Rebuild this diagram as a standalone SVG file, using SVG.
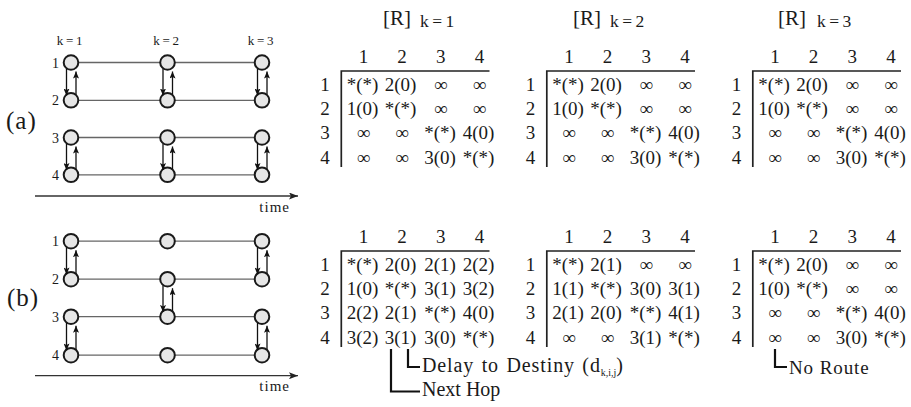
<svg xmlns="http://www.w3.org/2000/svg" width="911" height="407" viewBox="0 0 911 407">
<style>
text{font-family:"Liberation Serif","Times New Roman",serif;fill:#1a1a1a}
.cell{font-size:19px;text-anchor:middle}
.rl{font-size:19px;text-anchor:middle}
.tR{font-size:21px}
.tk{font-size:17.5px;letter-spacing:3.5px}
.kl{font-size:13px;letter-spacing:2.8px;text-anchor:middle}
.nl{font-size:14px;text-anchor:middle}
.big{font-size:25px;letter-spacing:1px}
.time{font-size:15px;letter-spacing:1px;text-anchor:end}
.ann{font-size:20px}
.link{stroke:#666;stroke-width:1.3;fill:none}
.node{fill:#e6e6e6;stroke:#1a1a1a;stroke-width:2}
.arr{stroke:#111;stroke-width:1.3;fill:none;marker-end:url(#ah)}
.axis{stroke:#333;stroke-width:1.3;fill:none;marker-end:url(#ah2)}
.mline{stroke:#222;stroke-width:1.7;fill:none}
.bl{stroke:#111;stroke-width:2.2;fill:none}
</style>
<defs>
<marker id="ah" markerWidth="8" markerHeight="6" refX="7" refY="3" orient="auto" markerUnits="userSpaceOnUse">
<path d="M0,0 L7,3 L0,6 L1.5,3 Z" fill="#111"/>
</marker>
<marker id="ah2" markerWidth="10" markerHeight="7" refX="9" refY="3.5" orient="auto" markerUnits="userSpaceOnUse">
<path d="M0,0 L9,3.5 L0,7 L2,3.5 Z" fill="#222"/>
</marker>
</defs>

<!-- Panel (a) -->
<g id="panel-a-labels">
<text class="big" x="6" y="129">(a)</text>
<text class="kl" x="71" y="45">k=1</text>
<text class="kl" x="167.5" y="45">k=2</text>
<text class="kl" x="262" y="45">k=3</text>
<text class="nl" x="55.5" y="67.5">1</text>
<text class="nl" x="55.5" y="105">2</text>
<text class="nl" x="55.5" y="142.5">3</text>
<text class="nl" x="55.5" y="180">4</text>
<text class="time" x="290" y="212">time</text>
</g>
<g id="connectors-a">
<line class="link" x1="71" y1="62.5" x2="262" y2="62.5"/>
<line class="link" x1="71" y1="100.3" x2="262" y2="100.3"/>
<line class="link" x1="71" y1="137.5" x2="262" y2="137.5"/>
<line class="link" x1="71" y1="174.8" x2="262" y2="174.8"/>
<line class="axis" x1="35" y1="196" x2="298" y2="196"/>
</g>
<g id="nodes-a">
<circle id="a-n1-k1" class="node" cx="71" cy="62.5" r="7.3"/>
<circle id="a-n2-k1" class="node" cx="71" cy="100.3" r="7.3"/>
<circle id="a-n3-k1" class="node" cx="71" cy="137.5" r="7.3"/>
<circle id="a-n4-k1" class="node" cx="71" cy="174.8" r="7.3"/>
<circle id="a-n1-k2" class="node" cx="167.5" cy="62.5" r="7.3"/>
<circle id="a-n2-k2" class="node" cx="167.5" cy="100.3" r="7.3"/>
<circle id="a-n3-k2" class="node" cx="167.5" cy="137.5" r="7.3"/>
<circle id="a-n4-k2" class="node" cx="167.5" cy="174.8" r="7.3"/>
<circle id="a-n1-k3" class="node" cx="262" cy="62.5" r="7.3"/>
<circle id="a-n2-k3" class="node" cx="262" cy="100.3" r="7.3"/>
<circle id="a-n3-k3" class="node" cx="262" cy="137.5" r="7.3"/>
<circle id="a-n4-k3" class="node" cx="262" cy="174.8" r="7.3"/>
</g>
<g id="arrows-a">
<line class="arr" x1="66.5" y1="68.5" x2="66.5" y2="95.5"/>
<line class="arr" x1="76" y1="94.5" x2="76" y2="71.5"/>
<line class="arr" x1="66.5" y1="143.5" x2="66.5" y2="170"/>
<line class="arr" x1="76" y1="169" x2="76" y2="146.5"/>
<line class="arr" x1="163" y1="68.5" x2="163" y2="95.5"/>
<line class="arr" x1="172.5" y1="94.5" x2="172.5" y2="71.5"/>
<line class="arr" x1="163" y1="143.5" x2="163" y2="170"/>
<line class="arr" x1="172.5" y1="169" x2="172.5" y2="146.5"/>
<line class="arr" x1="257.5" y1="68.5" x2="257.5" y2="95.5"/>
<line class="arr" x1="267" y1="94.5" x2="267" y2="71.5"/>
<line class="arr" x1="257.5" y1="143.5" x2="257.5" y2="170"/>
<line class="arr" x1="267" y1="169" x2="267" y2="146.5"/>
</g>

<!-- Panel (b) -->
<g id="panel-b-labels">
<text class="big" x="7" y="306">(b)</text>
<text class="nl" x="55.5" y="246.2">1</text>
<text class="nl" x="55.5" y="284.2">2</text>
<text class="nl" x="55.5" y="321.7">3</text>
<text class="nl" x="55.5" y="360.2">4</text>
<text class="time" x="290" y="391">time</text>
</g>
<g id="connectors-b">
<line class="link" x1="71" y1="241.2" x2="262" y2="241.2"/>
<line class="link" x1="71" y1="279.2" x2="262" y2="279.2"/>
<line class="link" x1="71" y1="316.7" x2="262" y2="316.7"/>
<line class="link" x1="71" y1="355.2" x2="262" y2="355.2"/>
<line class="axis" x1="35" y1="375.7" x2="298" y2="375.7"/>
</g>
<g id="nodes-b">
<circle id="b-n1-k1" class="node" cx="71" cy="241.2" r="7.3"/>
<circle id="b-n2-k1" class="node" cx="71" cy="279.2" r="7.3"/>
<circle id="b-n3-k1" class="node" cx="71" cy="316.7" r="7.3"/>
<circle id="b-n4-k1" class="node" cx="71" cy="355.2" r="7.3"/>
<circle id="b-n1-k2" class="node" cx="167.5" cy="241.2" r="7.3"/>
<circle id="b-n2-k2" class="node" cx="167.5" cy="279.2" r="7.3"/>
<circle id="b-n3-k2" class="node" cx="167.5" cy="316.7" r="7.3"/>
<circle id="b-n4-k2" class="node" cx="167.5" cy="355.2" r="7.3"/>
<circle id="b-n1-k3" class="node" cx="262" cy="241.2" r="7.3"/>
<circle id="b-n2-k3" class="node" cx="262" cy="279.2" r="7.3"/>
<circle id="b-n3-k3" class="node" cx="262" cy="316.7" r="7.3"/>
<circle id="b-n4-k3" class="node" cx="262" cy="355.2" r="7.3"/>
</g>
<g id="arrows-b">
<line class="arr" x1="66.5" y1="247.2" x2="66.5" y2="274.4"/>
<line class="arr" x1="76" y1="273.4" x2="76" y2="250.2"/>
<line class="arr" x1="66.5" y1="322.7" x2="66.5" y2="350.4"/>
<line class="arr" x1="76" y1="349.4" x2="76" y2="325.7"/>
<line class="arr" x1="163" y1="285.2" x2="163" y2="311.9"/>
<line class="arr" x1="172.5" y1="310.9" x2="172.5" y2="288.2"/>
<line class="arr" x1="257.5" y1="247.2" x2="257.5" y2="274.4"/>
<line class="arr" x1="267" y1="273.4" x2="267" y2="250.2"/>
<line class="arr" x1="257.5" y1="322.7" x2="257.5" y2="350.4"/>
<line class="arr" x1="267" y1="349.4" x2="267" y2="325.7"/>
</g>

<!-- Titles -->
<g id="titles">
<text class="tR" x="383" y="24.5">[R]</text><text class="tk" x="420" y="26.5">k=1</text>
<text class="tR" x="573" y="24.5">[R]</text><text class="tk" x="610" y="26.5">k=2</text>
<text class="tR" x="778" y="24.5">[R]</text><text class="tk" x="817" y="26.5">k=3</text>
</g>

<!-- Matrix a k=1 -->
<g id="mat-a-k1">
<path class="mline" d="M341.3,167 V71 H489.5"/>
<text class="cell" x="363.5" y="63.3">1</text><text class="cell" x="402" y="63.3">2</text><text class="cell" x="440.8" y="63.3">3</text><text class="cell" x="479.6" y="63.3">4</text>
<text class="rl" x="325" y="90.7">1</text><text class="rl" x="325" y="115">2</text><text class="rl" x="325" y="139.3">3</text><text class="rl" x="325" y="163.5">4</text>
<text class="cell" x="362.5" y="90.7">*(*)</text><text class="cell" x="400.5" y="90.7">2(0)</text><text class="cell" x="440.8" y="90.7">∞</text><text class="cell" x="479.6" y="90.7">∞</text>
<text class="cell" x="362.5" y="115">1(0)</text><text class="cell" x="400.5" y="115">*(*)</text><text class="cell" x="440.8" y="115">∞</text><text class="cell" x="479.6" y="115">∞</text>
<text class="cell" x="363.5" y="139.3">∞</text><text class="cell" x="402" y="139.3">∞</text><text class="cell" x="440" y="139.3">*(*)</text><text class="cell" x="478.5" y="139.3">4(0)</text>
<text class="cell" x="363.5" y="163.5">∞</text><text class="cell" x="402" y="163.5">∞</text><text class="cell" x="440" y="163.5">3(0)</text><text class="cell" x="478.5" y="163.5">*(*)</text>
</g>
<!-- Matrix a k=2 -->
<g id="mat-a-k2" transform="translate(205.5,0)">
<path class="mline" d="M341.3,167 V71 H489.5"/>
<text class="cell" x="363.5" y="63.3">1</text><text class="cell" x="402" y="63.3">2</text><text class="cell" x="440.8" y="63.3">3</text><text class="cell" x="479.6" y="63.3">4</text>
<text class="rl" x="325" y="90.7">1</text><text class="rl" x="325" y="115">2</text><text class="rl" x="325" y="139.3">3</text><text class="rl" x="325" y="163.5">4</text>
<text class="cell" x="362.5" y="90.7">*(*)</text><text class="cell" x="400.5" y="90.7">2(0)</text><text class="cell" x="440.8" y="90.7">∞</text><text class="cell" x="479.6" y="90.7">∞</text>
<text class="cell" x="362.5" y="115">1(0)</text><text class="cell" x="400.5" y="115">*(*)</text><text class="cell" x="440.8" y="115">∞</text><text class="cell" x="479.6" y="115">∞</text>
<text class="cell" x="363.5" y="139.3">∞</text><text class="cell" x="402" y="139.3">∞</text><text class="cell" x="440" y="139.3">*(*)</text><text class="cell" x="478.5" y="139.3">4(0)</text>
<text class="cell" x="363.5" y="163.5">∞</text><text class="cell" x="402" y="163.5">∞</text><text class="cell" x="440" y="163.5">3(0)</text><text class="cell" x="478.5" y="163.5">*(*)</text>
</g>
<!-- Matrix a k=3 -->
<g id="mat-a-k3" transform="translate(411.5,0)">
<path class="mline" d="M341.3,167 V71 H489.5"/>
<text class="cell" x="363.5" y="63.3">1</text><text class="cell" x="402" y="63.3">2</text><text class="cell" x="440.8" y="63.3">3</text><text class="cell" x="479.6" y="63.3">4</text>
<text class="rl" x="325" y="90.7">1</text><text class="rl" x="325" y="115">2</text><text class="rl" x="325" y="139.3">3</text><text class="rl" x="325" y="163.5">4</text>
<text class="cell" x="362.5" y="90.7">*(*)</text><text class="cell" x="400.5" y="90.7">2(0)</text><text class="cell" x="440.8" y="90.7">∞</text><text class="cell" x="479.6" y="90.7">∞</text>
<text class="cell" x="362.5" y="115">1(0)</text><text class="cell" x="400.5" y="115">*(*)</text><text class="cell" x="440.8" y="115">∞</text><text class="cell" x="479.6" y="115">∞</text>
<text class="cell" x="363.5" y="139.3">∞</text><text class="cell" x="402" y="139.3">∞</text><text class="cell" x="440" y="139.3">*(*)</text><text class="cell" x="478.5" y="139.3">4(0)</text>
<text class="cell" x="363.5" y="163.5">∞</text><text class="cell" x="402" y="163.5">∞</text><text class="cell" x="440" y="163.5">3(0)</text><text class="cell" x="478.5" y="163.5">*(*)</text>
</g>

<!-- Matrix b k=1 -->
<g id="mat-b-k1" transform="translate(0,180)">
<path class="mline" d="M341.3,167 V71 H489.5"/>
<text class="cell" x="363.5" y="63.3">1</text><text class="cell" x="402" y="63.3">2</text><text class="cell" x="440.8" y="63.3">3</text><text class="cell" x="479.6" y="63.3">4</text>
<text class="rl" x="325" y="90.7">1</text><text class="rl" x="325" y="115">2</text><text class="rl" x="325" y="139.3">3</text><text class="rl" x="325" y="163.5">4</text>
<text class="cell" x="362.5" y="90.7">*(*)</text><text class="cell" x="400.5" y="90.7">2(0)</text><text class="cell" x="440" y="90.7">2(1)</text><text class="cell" x="478.5" y="90.7">2(2)</text>
<text class="cell" x="362.5" y="115">1(0)</text><text class="cell" x="400.5" y="115">*(*)</text><text class="cell" x="440" y="115">3(1)</text><text class="cell" x="478.5" y="115">3(2)</text>
<text class="cell" x="362.5" y="139.3">2(2)</text><text class="cell" x="400.5" y="139.3">2(1)</text><text class="cell" x="440" y="139.3">*(*)</text><text class="cell" x="478.5" y="139.3">4(0)</text>
<text class="cell" x="362.5" y="163.5">3(2)</text><text class="cell" x="400.5" y="163.5">3(1)</text><text class="cell" x="440" y="163.5">3(0)</text><text class="cell" x="478.5" y="163.5">*(*)</text>
</g>
<!-- Matrix b k=2 -->
<g id="mat-b-k2" transform="translate(205.5,180)">
<path class="mline" d="M341.3,167 V71 H489.5"/>
<text class="cell" x="363.5" y="63.3">1</text><text class="cell" x="402" y="63.3">2</text><text class="cell" x="440.8" y="63.3">3</text><text class="cell" x="479.6" y="63.3">4</text>
<text class="rl" x="325" y="90.7">1</text><text class="rl" x="325" y="115">2</text><text class="rl" x="325" y="139.3">3</text><text class="rl" x="325" y="163.5">4</text>
<text class="cell" x="362.5" y="90.7">*(*)</text><text class="cell" x="400.5" y="90.7">2(1)</text><text class="cell" x="440.8" y="90.7">∞</text><text class="cell" x="479.6" y="90.7">∞</text>
<text class="cell" x="362.5" y="115">1(1)</text><text class="cell" x="400.5" y="115">*(*)</text><text class="cell" x="440" y="115">3(0)</text><text class="cell" x="478.5" y="115">3(1)</text>
<text class="cell" x="362.5" y="139.3">2(1)</text><text class="cell" x="400.5" y="139.3">2(0)</text><text class="cell" x="440" y="139.3">*(*)</text><text class="cell" x="478.5" y="139.3">4(1)</text>
<text class="cell" x="363.5" y="163.5">∞</text><text class="cell" x="402" y="163.5">∞</text><text class="cell" x="440" y="163.5">3(1)</text><text class="cell" x="478.5" y="163.5">*(*)</text>
</g>
<!-- Matrix b k=3 -->
<g id="mat-b-k3" transform="translate(411.5,180)">
<path class="mline" d="M341.3,167 V71 H489.5"/>
<text class="cell" x="363.5" y="63.3">1</text><text class="cell" x="402" y="63.3">2</text><text class="cell" x="440.8" y="63.3">3</text><text class="cell" x="479.6" y="63.3">4</text>
<text class="rl" x="325" y="90.7">1</text><text class="rl" x="325" y="115">2</text><text class="rl" x="325" y="139.3">3</text><text class="rl" x="325" y="163.5">4</text>
<text class="cell" x="362.5" y="90.7">*(*)</text><text class="cell" x="400.5" y="90.7">2(0)</text><text class="cell" x="440.8" y="90.7">∞</text><text class="cell" x="479.6" y="90.7">∞</text>
<text class="cell" x="362.5" y="115">1(0)</text><text class="cell" x="400.5" y="115">*(*)</text><text class="cell" x="440.8" y="115">∞</text><text class="cell" x="479.6" y="115">∞</text>
<text class="cell" x="363.5" y="139.3">∞</text><text class="cell" x="402" y="139.3">∞</text><text class="cell" x="440" y="139.3">*(*)</text><text class="cell" x="478.5" y="139.3">4(0)</text>
<text class="cell" x="363.5" y="163.5">∞</text><text class="cell" x="402" y="163.5">∞</text><text class="cell" x="440" y="163.5">3(0)</text><text class="cell" x="478.5" y="163.5">*(*)</text>
</g>

<!-- Annotations -->
<g id="annotations">
<path class="bl" d="M408,349 V367 H420"/>
<path class="bl" d="M391,349 V391.5 H420"/>
<path class="bl" d="M775,349 V367 H787"/>
<text class="ann" x="422" y="372" style="letter-spacing:0.9px;word-spacing:1.5px">Delay to Destiny (d<tspan font-size="10" dy="3.5" style="letter-spacing:0">k,i,j</tspan><tspan dy="-3.5">)</tspan></text>
<text class="ann" x="422" y="396">Next Hop</text>
<text class="ann" x="789" y="374" style="font-size:19px;letter-spacing:0.9px">No Route</text>
</g>
</svg>
